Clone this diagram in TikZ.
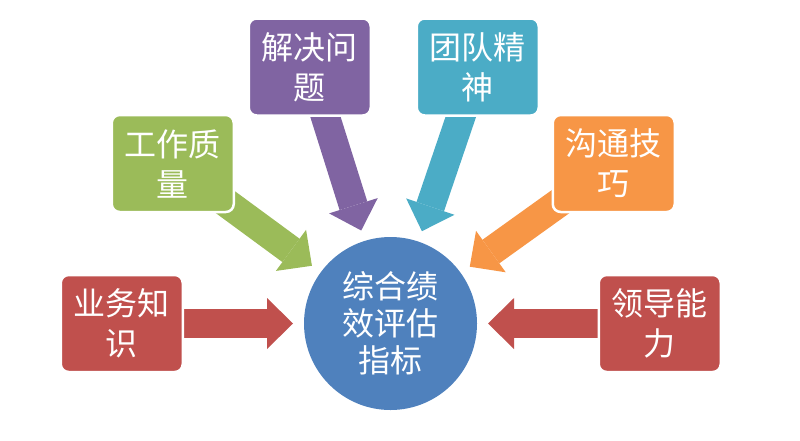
\documentclass[tikz,border=0pt]{standalone}
\usepackage{fontspec}
\newfontfamily\cjk{Noto Sans CJK SC}
\usetikzlibrary{arrows.meta,positioning,backgrounds}
\definecolor{evalblue}{HTML}{4F81BD}
\definecolor{evalred}{HTML}{C0504D}
\definecolor{evalgreen}{HTML}{9BBB59}
\definecolor{evalpurple}{HTML}{8064A2}
\definecolor{evalteal}{HTML}{4BACC6}
\definecolor{evalorange}{HTML}{F79646}
\tikzset{
    evalhub/.style={circle,fill=evalblue,minimum size=173pt,inner sep=0pt,outer sep=0pt,align=center,text=white,font=\cjk\fontsize{32}{37}\selectfont},
    evalitem/.style={rectangle,rounded corners=8pt,draw=white,line width=2.5pt,minimum width=122pt,minimum height=97pt,inner sep=2pt,align=center,text=white,font=\cjk\fontsize{32}{40}\selectfont},
    evalarrow/.style={line width=29pt,-{Triangle[length=26pt,width=51pt,line width=0pt]},shorten >=11pt}
}

\begin{document}
\begin{tikzpicture}[x=1pt,y=-1pt]
        \useasboundingbox (0,0) rectangle (800,440);
        \node[evalhub] (hub) at (390.5,323.5) {综合绩\\效评估\\指标};
        \node[evalitem,fill=evalred,left=120pt of hub] (knowledge) {业务知\\识};
        \node[evalitem,fill=evalred,right=120.5pt of hub] (leadership) {领导能\\力};
        \node[evalitem,fill=evalgreen,above=60.5pt of knowledge,xshift=51pt] (quality) {工作质\\量};
        \node[evalitem,fill=evalpurple,above right=-3pt and 12.5pt of quality] (solving) {解决问\\题};
        \node[evalitem,fill=evalteal,right=43.5pt of solving] (teamwork) {团队精\\神};
        \node[evalitem,fill=evalorange,below right=-3pt and 11.5pt of teamwork] (communication) {沟通技\\巧};
        \begin{scope}[on background layer]
            \foreach \item/\col in {knowledge/evalred,leadership/evalred,quality/evalgreen,solving/evalpurple,teamwork/evalteal,communication/evalorange}
                \draw[evalarrow,color=\col] (\item.center) -- (hub);
        \end{scope}
    \end{tikzpicture}
\end{document}
